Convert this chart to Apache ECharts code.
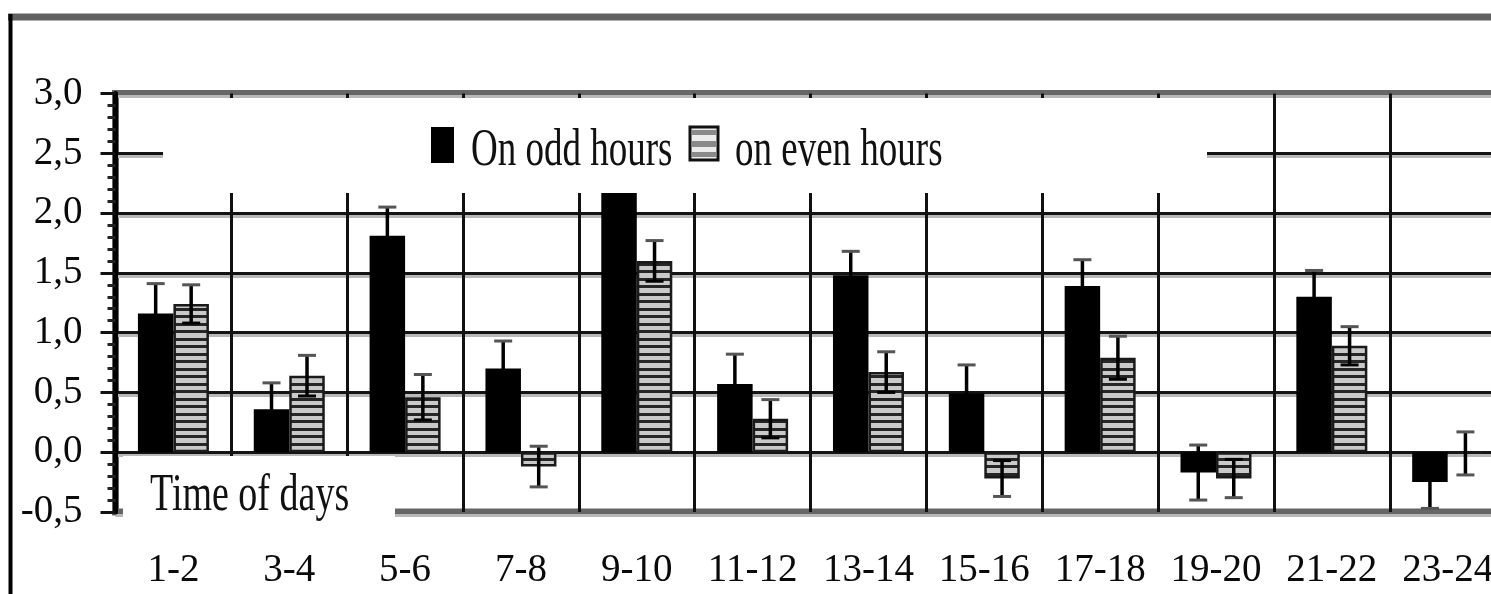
<!DOCTYPE html>
<html>
<head>
<meta charset="utf-8">
<script src="https://cdn.jsdelivr.net/npm/echarts@6/dist/echarts.min.js"></script>
<style>
  html, body { margin: 0; padding: 0; overflow: hidden; background: #fff; }
  #chart { width: 1530px; height: 620px; }
</style>
</head>
<body>
<div id="chart"></div>
<script>
// Two-hour periods of the day
const categories = ['1-2', '3-4', '5-6', '7-8', '9-10', '11-12', '13-14', '15-16', '17-18', '19-20', '21-22', '23-24'];

// Mean values and their errors for each period
const oddHours   = [1.16, 0.36, 1.81, 0.70, 2.30, 0.57, 1.48, 0.49, 1.39, -0.17, 1.30, -0.25];
const oddErrors  = [0.25, 0.22, 0.24, 0.23, 0.22, 0.25, 0.20, 0.24, 0.22, 0.23, 0.22, 0.22];
const evenHours  = [1.24, 0.64, 0.46, -0.12, 1.60, 0.28, 0.67, -0.22, 0.79, -0.22, 0.89, -0.01];
const evenErrors = [0.16, 0.17, 0.19, 0.17, 0.17, 0.16, 0.17, 0.15, 0.18, 0.16, 0.16, 0.18];

// Value axis
const yMin = -0.5, yMax = 3.0, yStep = 0.5;
const yTickLabels = ['-0,5', '0,0', '0,5', '1,0', '1,5', '2,0', '2,5', '3,0'];

const seriesNames = ['On odd hours', 'on even hours'];
const axisTitle = 'Time of days';

const BAR_WIDTH = 35.5;
const CAP = 18;
const SERIF = '"Liberation Serif", "Times New Roman", serif';

// Horizontal hatching used for the even-hour bars
function hatch() {
  const c = document.createElement('canvas');
  c.width = 4; c.height = 15;
  const ctx = c.getContext('2d');
  ctx.fillStyle = '#c9c9c9';
  ctx.fillRect(0, 0, 4, 15);
  ctx.fillStyle = '#262626';
  ctx.fillRect(0, 0, 4, 3);
  ctx.fillRect(0, 8, 4, 3);
  return c;
}

// Symmetric error bars; the whisker end lying inside the bar body is drawn dark
function errorSeries(values, errors, side) {
  return {
    type: 'custom',
    z: 3,
    silent: true,
    data: values.map((v, i) => [i, v, errors[i]]),
    encode: { x: 0, y: 1 },
    renderItem: function (params, api) {
      const i = api.value(0), v = api.value(1), e = api.value(2);
      const x = api.coord([i, v])[0] + side * BAR_WIDTH / 2;
      const yTop = api.coord([i, v + e])[1];
      const yBot = api.coord([i, v - e])[1];
      const h = CAP / 2;
      const innerInside = e < Math.abs(v);
      const topColor = (v < 0 && innerInside) ? '#000' : '#555';
      const botColor = (v > 0 && innerInside) ? '#000' : '#555';
      return {
        type: 'group',
        children: [
          { type: 'line', shape: { x1: x, y1: yTop, x2: x, y2: yBot }, style: { stroke: '#000', lineWidth: 3.5, opacity: 1 } },
          { type: 'line', shape: { x1: x - h, y1: yTop, x2: x + h, y2: yTop }, style: { stroke: topColor, lineWidth: 3, opacity: 1 } },
          { type: 'line', shape: { x1: x - h, y1: yBot, x2: x + h, y2: yBot }, style: { stroke: botColor, lineWidth: 3, opacity: 1 } }
        ]
      };
    }
  };
}

const chart = echarts.init(document.getElementById('chart'), null, { renderer: 'canvas' });

const splitColors = yTickLabels.map((_, i) => (i === 0 || i === yTickLabels.length - 1) ? '#666' : '#141414');

chart.setOption({
  animation: false,
  backgroundColor: '#fff',
  grid: {
    left: 115.5, right: 24.4, top: 93.5, bottom: 108,
    containLabel: false, outerBoundsMode: 'none',
    show: true, borderColor: '#666', borderWidth: 7, backgroundColor: 'transparent'
  },
  xAxis: {
    type: 'category',
    data: categories,
    boundaryGap: true,
    axisLine: { show: false },
    axisTick: { show: false },
    axisLabel: { interval: 0, margin: 39, fontFamily: SERIF, fontSize: 39, color: '#0a0a0a' },
    splitLine: { show: true, interval: 0, lineStyle: { color: '#111', width: 3 } }
  },
  yAxis: {
    type: 'value',
    min: yMin, max: yMax, interval: yStep,
    axisLine: { show: true, lineStyle: { color: '#000', width: 5 } },
    axisTick: { show: true, inside: false, length: 15, lineStyle: { color: '#111', width: 3 } },
    minorTick: { show: true, splitNumber: 5, length: 8, lineStyle: { color: '#222', width: 3 } },
    axisLabel: {
      margin: 33, fontFamily: SERIF, fontSize: 39, color: '#0a0a0a',
      formatter: v => yTickLabels[Math.round((v - yMin) / yStep)]
    },
    splitLine: {
      show: true,
      lineStyle: { color: splitColors, width: 3, shadowColor: '#b8b8b8', shadowOffsetY: 3, shadowBlur: 0 }
    }
  },
  series: [
    {
      name: seriesNames[0], type: 'bar', data: oddHours,
      barWidth: BAR_WIDTH, barGap: '0%',
      itemStyle: { color: '#000' }
    },
    {
      name: seriesNames[1], type: 'bar', data: evenHours,
      barWidth: BAR_WIDTH, barGap: '0%',
      itemStyle: { color: { image: hatch(), repeat: 'repeat' }, borderColor: '#1a1a1a', borderWidth: 2.5 }
    },
    errorSeries(oddHours, oddErrors, -1),
    errorSeries(evenHours, evenErrors, 1)
  ],
  graphic: [
    // outer frame
    { type: 'line', z: 100, shape: { x1: 8, y1: 17, x2: 1530, y2: 17 }, style: { stroke: '#606060', lineWidth: 7 } },
    { type: 'line', z: 100, shape: { x1: 10.5, y1: 14, x2: 10.5, y2: 620 }, style: { stroke: '#000', lineWidth: 4 } },
    // legend panel
    { type: 'rect', z: 100, shape: { x: 163, y: 98, width: 1044, height: 95 }, style: { fill: '#fff' } },
    { type: 'rect', z: 101, shape: { x: 431, y: 127, width: 23, height: 36 }, style: { fill: '#000' } },
    {
      type: 'group', z: 101, x: 690, y: 127,
      children: [
        { type: 'rect', z: 101, shape: { x: 0, y: 0, width: 28, height: 33 }, style: { fill: '#ececec', stroke: '#111', lineWidth: 3 } },
        { type: 'rect', z: 102, shape: { x: 2, y: 3, width: 24, height: 5 }, style: { fill: '#8a8a8a' } },
        { type: 'rect', z: 102, shape: { x: 2, y: 14, width: 24, height: 6 }, style: { fill: '#8a8a8a' } },
        { type: 'rect', z: 102, shape: { x: 2, y: 25, width: 24, height: 5 }, style: { fill: '#8a8a8a' } }
      ]
    },
    { type: 'text', z: 102, x: 471, y: 151, scaleY: 1.42,
      style: { text: seriesNames[0], font: '37px ' + SERIF, fill: '#111', align: 'left', verticalAlign: 'middle' } },
    { type: 'text', z: 102, x: 735, y: 151, scaleY: 1.42,
      style: { text: seriesNames[1], font: '37px ' + SERIF, fill: '#111', align: 'left', verticalAlign: 'middle' } },
    // axis title panel
    { type: 'rect', z: 100, shape: { x: 123, y: 456, width: 272, height: 62 }, style: { fill: '#fff' } },
    { type: 'text', z: 102, x: 150, y: 496, scaleY: 1.4,
      style: { text: axisTitle, font: '38px ' + SERIF, fill: '#111', align: 'left', verticalAlign: 'middle' } }
  ]
});
</script>
</body>
</html>
